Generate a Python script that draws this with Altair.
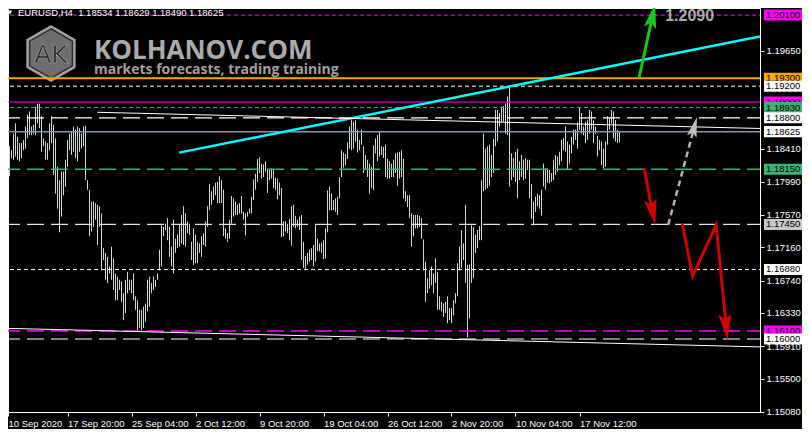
import altair as alt
import pandas as pd

# ---------------- data ----------------
HIGHS = [
    1.1865, 1.1916, 1.1858, 1.1844, 1.1839, 1.1860, 1.1873, 1.1856, 1.1848, 1.1848,
    1.1852, 1.1869, 1.1884, 1.1888, 1.1869, 1.1871, 1.1894, 1.1898, 1.1898, 1.1882,
    1.1854, 1.1850, 1.1848, 1.1873, 1.1882, 1.1871, 1.1854, 1.1818, 1.1801, 1.1812,
    1.1812, 1.1827, 1.1852, 1.1860, 1.1863, 1.1869, 1.1865, 1.1869, 1.1867, 1.1860,
    1.1869, 1.1870, 1.1801, 1.1789, 1.1774, 1.1774, 1.1772, 1.1770, 1.1768, 1.1759,
    1.1715, 1.1709, 1.1704, 1.1692, 1.1717, 1.1702, 1.1683, 1.1679, 1.1675, 1.1673,
    1.1658, 1.1675, 1.1685, 1.1675, 1.1675, 1.1683, 1.1654, 1.1649, 1.1637, 1.1637,
    1.1641, 1.1645, 1.1675, 1.1679, 1.1671, 1.1679, 1.1675, 1.1683, 1.1713,
    1.1744, 1.1742, 1.1746, 1.1753, 1.1742, 1.1717, 1.1751, 1.1727, 1.1732, 1.1746,
    1.1757, 1.1768, 1.1759, 1.1749, 1.1746, 1.1723, 1.1740, 1.1732, 1.1723, 1.1721,
    1.1730, 1.1734, 1.1749, 1.1768, 1.1796, 1.1787, 1.1793, 1.1798, 1.1799, 1.1806,
    1.1801, 1.1789, 1.1740, 1.1734, 1.1751, 1.1781, 1.1778, 1.1774, 1.1770, 1.1772,
    1.1781, 1.1761, 1.1759, 1.1761, 1.1765, 1.1780, 1.1802, 1.1809, 1.1828, 1.1830,
    1.1822, 1.1821, 1.1825, 1.1814, 1.1814, 1.1816, 1.1814, 1.1804, 1.1803, 1.1798,
    1.1791, 1.1749, 1.1749, 1.1746, 1.1752, 1.1768, 1.1770, 1.1756, 1.1751, 1.1755,
    1.1757, 1.1723, 1.1705, 1.1709, 1.1713, 1.1715, 1.1719,
    1.1744, 1.1727, 1.1721, 1.1722, 1.1725, 1.1740, 1.1788, 1.1793, 1.1784, 1.1776,
    1.1778, 1.1780, 1.1805, 1.1839, 1.1836, 1.1834, 1.1849, 1.1869, 1.1877, 1.1875,
    1.1877, 1.1865, 1.1852, 1.1865, 1.1844, 1.1833, 1.1827, 1.1822, 1.1818, 1.1845,
    1.1854, 1.1858, 1.1863, 1.1844, 1.1843, 1.1846, 1.1828, 1.1825, 1.1822, 1.1827,
    1.1835, 1.1836, 1.1837, 1.1839, 1.1828, 1.1787, 1.1782, 1.1782, 1.1759, 1.1757,
    1.1757, 1.1757, 1.1756, 1.1753, 1.1726, 1.1698, 1.1677, 1.1687, 1.1692, 1.1683,
    1.1702, 1.1685, 1.1654, 1.1647, 1.1645, 1.1647, 1.1654, 1.1639, 1.1639, 1.1649,
    1.1658, 1.1696, 1.1717, 1.1738, 1.1721, 1.1770, 1.1694,
    1.1694, 1.1744, 1.1742, 1.1732, 1.1738, 1.1743, 1.1801, 1.1860, 1.1841, 1.1844,
    1.1846, 1.1833, 1.1853, 1.1890, 1.1890, 1.1886, 1.1894, 1.1895, 1.1898, 1.1907,
    1.1920, 1.1835, 1.1829, 1.1837, 1.1841, 1.1825, 1.1833, 1.1827, 1.1829, 1.1827,
    1.1827, 1.1796, 1.1774, 1.1780, 1.1784, 1.1782, 1.1789, 1.1822, 1.1816, 1.1816,
    1.1814, 1.1810, 1.1827, 1.1833, 1.1831, 1.1837, 1.1852, 1.1854, 1.1869, 1.1850,
    1.1846, 1.1856, 1.1865, 1.1865, 1.1874, 1.1893, 1.1886, 1.1869, 1.1875, 1.1877,
    1.1890, 1.1888, 1.1877, 1.1869, 1.1857, 1.1852, 1.1850, 1.1841, 1.1850, 1.1882,
    1.1880, 1.1890, 1.1888, 1.1877, 1.1865, 1.18629,
]

LOWS = [
    1.1827, 1.1856, 1.1808, 1.1806, 1.1829, 1.1827, 1.1831, 1.1827, 1.1825, 1.1829,
    1.1839, 1.1841, 1.1854, 1.1858, 1.1858, 1.1860, 1.1858, 1.1873, 1.1867, 1.1837,
    1.1844, 1.1827, 1.1827, 1.1839, 1.1848, 1.1808, 1.1784, 1.1765, 1.1735, 1.1755,
    1.1782, 1.1793, 1.1818, 1.1839, 1.1833, 1.1837, 1.1829, 1.1825, 1.1837, 1.1841,
    1.1844, 1.1801, 1.1789, 1.1730, 1.1736, 1.1742, 1.1751, 1.1719, 1.1742, 1.1687,
    1.1700, 1.1675, 1.1671, 1.1683, 1.1675, 1.1662, 1.1649, 1.1649, 1.1662, 1.1647,
    1.1624, 1.1633, 1.1658, 1.1662, 1.1658, 1.1649, 1.1637, 1.1611, 1.1614, 1.1611,
    1.1614, 1.1622, 1.1635, 1.1641, 1.1658, 1.1662, 1.1666, 1.1675, 1.1687,
    1.1692, 1.1730, 1.1738, 1.1725, 1.1704, 1.1692, 1.1683, 1.1709, 1.1715, 1.1717,
    1.1721, 1.1719, 1.1717, 1.1734, 1.1732, 1.1700, 1.1694, 1.1696, 1.1696, 1.1709,
    1.1704, 1.1719, 1.1717, 1.1742, 1.1763, 1.1770, 1.1776, 1.1782, 1.1772, 1.1772,
    1.1772, 1.1730, 1.1727, 1.1723, 1.1727, 1.1746, 1.1755, 1.1757, 1.1757, 1.1759,
    1.1759, 1.1751, 1.1731, 1.1755, 1.1759, 1.1759, 1.1776, 1.1789, 1.1799, 1.1810,
    1.1803, 1.1805, 1.1812, 1.1785, 1.1801, 1.1803, 1.1791, 1.1789, 1.1777, 1.1782,
    1.1729, 1.1730, 1.1736, 1.1734, 1.1725, 1.1718, 1.1742, 1.1740, 1.1742, 1.1738,
    1.1700, 1.1690, 1.1687, 1.1694, 1.1698, 1.1700, 1.1692,
    1.1698, 1.1711, 1.1711, 1.1709, 1.1701, 1.1702, 1.1735, 1.1763, 1.1763, 1.1763,
    1.1761, 1.1757, 1.1778, 1.1805, 1.1817, 1.1820, 1.1828, 1.1841, 1.1839, 1.1841,
    1.1850, 1.1836, 1.1839, 1.1846, 1.1810, 1.1814, 1.1805, 1.1784, 1.1791, 1.1789,
    1.1835, 1.1825, 1.1831, 1.1833, 1.1829, 1.1805, 1.1803, 1.1803, 1.1805, 1.1805,
    1.1810, 1.1794, 1.1803, 1.1805, 1.1778, 1.1774, 1.1767, 1.1753, 1.1717, 1.1730,
    1.1740, 1.1740, 1.1742, 1.1727, 1.1687, 1.1647, 1.1658, 1.1664, 1.1668, 1.1658,
    1.1671, 1.1637, 1.1637, 1.1635, 1.1628, 1.1633, 1.1620, 1.1624, 1.1620, 1.1630,
    1.1645, 1.1654, 1.1687, 1.1690, 1.1700, 1.1671, 1.1602,
    1.1626, 1.1671, 1.1677, 1.1709, 1.1715, 1.1725, 1.1725, 1.1787, 1.1789, 1.1791,
    1.1794, 1.1805, 1.1810, 1.1844, 1.1850, 1.1869, 1.1874, 1.1875, 1.1860, 1.1858,
    1.1793, 1.1801, 1.1805, 1.1799, 1.1778, 1.1801, 1.1805, 1.1801, 1.1803, 1.1814,
    1.1778, 1.1752, 1.1744, 1.1761, 1.1768, 1.1765, 1.1756, 1.1793, 1.1789, 1.1798,
    1.1797, 1.1799, 1.1801, 1.1808, 1.1812, 1.1820, 1.1825, 1.1839, 1.1837, 1.1814,
    1.1822, 1.1835, 1.1846, 1.1852, 1.1841, 1.1865, 1.1860, 1.1858, 1.1848, 1.1852,
    1.1860, 1.1865, 1.1848, 1.1860, 1.1831, 1.1839, 1.1820, 1.1816, 1.1818, 1.1846,
    1.1865, 1.1873, 1.1854, 1.1850, 1.1848, 1.18490,
]

TIME_TICKS = [2.25, 32, 64, 96, 128, 160, 192, 224, 256, 288]
TIME_LABELS = ["10 Sep 2020", "17 Sep 20:00", "25 Sep 04:00", "2 Oct 12:00",
               "9 Oct 20:00", "19 Oct 04:00", "26 Oct 12:00", "2 Nov 20:00",
               "10 Nov 04:00", "17 Nov 12:00"]

PRICE_TICKS = [1.1508, 1.1550, 1.1591, 1.1633, 1.1674, 1.1716, 1.1757,
               1.1799, 1.1841, 1.1965]

LEVEL_PRICES = [1.2010, 1.1930, 1.1920, 1.1900, 1.1893, 1.1880, 1.18625,
                1.1815, 1.1745, 1.1688, 1.1610, 1.1600]
LEVEL_COLORS = ["#FF00FF", "#FFA500", "#FFFFFF", "#FF00FF", "#3CB371", "#FFFFFF",
                "#8796A5", "#3CB371", "#E0E0E0", "#FFFFFF", "#FF00FF", "#FFFFFF"]
LEVEL_STYLES = ["dot", "solid", "dot", "solid", "dot", "dash",
                "solid", "dash", "dash", "dot", "dash", "dash"]
LEVEL_WIDTHS = [1, 2, 1, 1.2, 1, 1.2, 1.5, 1.5, 1.2, 1, 1.5, 1.2]

BOX_PRICES = LEVEL_PRICES
BOX_LABELS = ["1.20100", "1.19300", "1.19200", "1.19000", "1.18930", "1.18800",
              "1.18625", "1.18150", "1.17450", "1.16880", "1.16100", "1.16000"]
BOX_COLORS = ["#FF00FF", "#FFA500", "#FFFFFF", "#FF00FF", "#3CB371", "#FFFFFF",
              "#FFFFFF", "#3CB371", "#C8C8C8", "#FFFFFF", "#FF00FF", "#FFFFFF"]

TREND_X1 = [87.85, 46.85, -0.15]
TREND_X2 = [378.25, 378.25, 378.25]
TREND_P1 = [1.18359, 1.18870, 1.16136]
TREND_P2 = [1.19831, 1.18665, 1.15900]
TREND_COLORS = ["#00FFFF", "#FFFFFF", "#FFFFFF"]
TREND_WIDTHS = [2.5, 1, 1]

GREEN_X = [317.85, 323.75]
GREEN_P = [1.19313, 1.2000]
GRAY_X = [332.35, 344.9]
GRAY_P = [1.17444, 1.18636]
RED1_X = [320.35, 322.85, 324.1]
RED1_P = [1.18165, 1.17823, 1.17668]
RED2_X = [339.35, 344.6, 356.35, 361.1]
RED2_P = [1.17456, 1.16798, 1.17444, 1.16215]

HEAD_X = [325.85, 346.7, 325.85, 362.0]
HEAD_P = [1.2025, 1.18807, 1.17444, 1.15988]
HEAD_ANGLE = [12, 15, 169, 174]
HEAD_COLOR = ["#1BC41B", "#BEBEBE", "#D00000", "#D00000"]
HEAD_SIZE = [625, 400, 676, 676]

TARGET_X = [330.85]
TARGET_P = [1.2009]
TARGET_TEXT = ["1.2090"]

HEADER = "EURUSD,H4\u00a0\u00a01.18534 1.18629 1.18490 1.18625"

# ---------------- chart ----------------
W, H = 752, 404
xs = alt.Scale(domain=[2.25, 378.25], nice=False, zero=False)
ys = alt.Scale(domain=[1.15076, 1.2019], nice=False, zero=False)

FONT = "Liberation Sans"
FS = 9.5
labels_js = "[" + ",".join("'" + s + "'" for s in TIME_LABELS) + "]"

x_axis = alt.Axis(values=TIME_TICKS, labelExpr=labels_js + "[round(datum.value/32)]",
                  orient="bottom", domain=False, grid=False, tickSize=4,
                  tickColor="#FFFFFF", labelColor="#FFFFFF", labelFont=FONT,
                  labelFontSize=FS, labelAlign="left", labelBaseline="top",
                  labelPadding=2, labelFlush=False, labelOverlap=False,
                  title=None, zindex=0)
y_axis = alt.Axis(values=PRICE_TICKS, format=".5f", orient="right", domain=False,
                  grid=False, tickSize=4, tickColor="#FFFFFF", labelColor="#FFFFFF",
                  labelFont=FONT, labelFontSize=FS, labelAlign="left",
                  labelBaseline="middle", labelPadding=2, labelFlush=False,
                  labelOverlap=False, title=None, zindex=0)


def X(field):
    return alt.X(field, scale=xs, axis=x_axis)


def Y(field):
    return alt.Y(field, scale=ys, axis=y_axis)


one = pd.DataFrame({"k": [0]})

# watermark logo
HEX = "M0,-1L0.866,-0.5L0.866,0.5L0,1L-0.866,0.5L-0.866,-0.5Z"
logo_outer = alt.Chart(one).mark_point(shape=HEX, filled=True, opacity=1, size=3249,
                                       color="#A2A2A2", strokeWidth=0).encode(
    x=alt.value(43), y=alt.value(45.5))
logo_inner = alt.Chart(one).mark_point(shape=HEX, filled=True, opacity=1, size=2450,
                                       fill="#6E6E6E", stroke="#2E2E2E",
                                       strokeWidth=1.5).encode(
    x=alt.value(43), y=alt.value(45.5))
logo_ak = alt.Chart(one).mark_text(text="AK", font="DejaVu Sans", fontSize=25,
                                   color="#1E1E1E", stroke="#A8A8A8",
                                   strokeWidth=0.6, align="center",
                                   baseline="middle").encode(
    x=alt.value(43), y=alt.value(47))
logo_title = alt.Chart(one).mark_text(text="KOLHANOV.COM", font="Open Sans",
                                      fontSize=26, fontWeight="bold", color="#ABABAB",
                                      align="left", baseline="alphabetic").encode(
    x=alt.value(86), y=alt.value(50.5))
logo_sub = alt.Chart(one).mark_text(text="markets forecasts, trading training",
                                    font="Open Sans", fontSize=14, fontWeight="bold",
                                    color="#A0A0A0", align="left",
                                    baseline="alphabetic").encode(
    x=alt.value(86), y=alt.value(66))

# horizontal levels
levels_df = pd.DataFrame({"price": LEVEL_PRICES, "color": LEVEL_COLORS,
                          "style": LEVEL_STYLES, "width": LEVEL_WIDTHS})
levels = alt.Chart(levels_df).mark_rule(strokeDashOffset=5).encode(
    y=Y("price:Q"),
    x=alt.value(0), x2=alt.value(W),
    color=alt.Color("color:N", scale=None),
    strokeDash=alt.StrokeDash("style:N", scale=alt.Scale(
        domain=["solid", "dot", "dash"], range=[[1, 0], [4, 3], [17, 7]]), legend=None),
    strokeWidth=alt.StrokeWidth("width:Q", scale=None),
)

# OHLC bars (high-low)
bars_df = pd.DataFrame({"i": list(range(len(HIGHS))), "high": HIGHS, "low": LOWS})
bars = alt.Chart(bars_df).mark_rule(color="#D6D6D6", strokeWidth=1, clip=True).encode(
    x=X("i:Q"),
    y=Y("low:Q"),
    y2="high:Q",
)

# trend lines
trend_df = pd.DataFrame({"x1": TREND_X1, "x2": TREND_X2, "p1": TREND_P1, "p2": TREND_P2,
                         "color": TREND_COLORS, "width": TREND_WIDTHS})
trends = alt.Chart(trend_df).mark_rule(clip=True).encode(
    x=X("x1:Q"), x2="x2:Q",
    y=Y("p1:Q"), y2="p2:Q",
    color=alt.Color("color:N", scale=None),
    strokeWidth=alt.StrokeWidth("width:Q", scale=None),
)


def shaft(xv, pv, color, width, dash=None):
    df = pd.DataFrame({"i": xv, "p": pv, "k": list(range(len(xv)))})
    kw = dict(color=color, strokeWidth=width)
    if dash is not None:
        kw["strokeDash"] = dash
    return alt.Chart(df).mark_line(**kw).encode(
        x=X("i:Q"),
        y=Y("p:Q"),
        order="k:Q",
    )


green_shaft = shaft(GREEN_X, GREEN_P, "#1BC41B", 3)
gray_shaft = shaft(GRAY_X, GRAY_P, "#B4B4B4", 2.5, [6, 4])
red1_shaft = shaft(RED1_X, RED1_P, "#D00000", 3)
red2_shaft = shaft(RED2_X, RED2_P, "#D00000", 3)

ARROW = "M0,0L0.5,2L0,1.6L-0.5,2Z"
heads_df = pd.DataFrame({"i": HEAD_X, "p": HEAD_P, "angle": HEAD_ANGLE,
                         "color": HEAD_COLOR, "size": HEAD_SIZE})
heads = alt.Chart(heads_df).mark_point(shape=ARROW, filled=True, opacity=1,
                                       strokeWidth=0).encode(
    x=X("i:Q"),
    y=Y("p:Q"),
    angle=alt.Angle("angle:Q", scale=None),
    color=alt.Color("color:N", scale=None),
    size=alt.Size("size:Q", scale=None),
)

target_df = pd.DataFrame({"i": TARGET_X, "p": TARGET_P, "t": TARGET_TEXT})
target = alt.Chart(target_df).mark_text(align="left", baseline="middle", font=FONT,
                                        fontSize=16, fontWeight="bold",
                                        color="#ADADAD").encode(
    x=X("i:Q"),
    y=Y("p:Q"),
    text="t:N",
)

# header
header_tri = alt.Chart(one).mark_point(shape="triangle-down", filled=True, opacity=1,
                                       size=22, color="#FFFFFF").encode(
    x=alt.value(2), y=alt.value(4.5))
header = alt.Chart(one).mark_text(text=HEADER, font=FONT, fontSize=FS,
                                  color="#FFFFFF", align="left",
                                  baseline="middle").encode(
    x=alt.value(10), y=alt.value(5))

# price label boxes on the right axis
BOX = "M-1,-0.29L1,-0.29L1,0.29L-1,0.29Z"
box_layers = []
for bp, bl, bc in zip(BOX_PRICES, BOX_LABELS, BOX_COLORS):
    bdf = pd.DataFrame({"price": [bp], "label": [bl]})
    box_layers.append(
        alt.Chart(bdf).mark_point(shape=BOX, filled=True, opacity=1, size=1444,
                                  color=bc, strokeWidth=0).encode(
            x=alt.value(W + 23), y=Y("price:Q")))
    box_layers.append(
        alt.Chart(bdf).mark_text(align="left", baseline="middle", font=FONT,
                                 fontSize=FS, color="#000000").encode(
            x=alt.value(W + 6), y=Y("price:Q"), text="label:N"))

chart = alt.layer(
    bars, logo_outer, logo_inner, logo_ak, logo_title, logo_sub, levels,
    trends, green_shaft, gray_shaft, red1_shaft, red2_shaft, heads, target,
    header_tri, header, *box_layers,
).properties(
    width=W, height=H,
    autosize=alt.AutoSizeParams(type="none"),
    padding={"left": 0, "top": 0, "right": 42, "bottom": 17},
    background="#000000",
).configure_view(
    stroke="#FFFFFF", strokeWidth=1, fill="#000000",
)

chart.save("out.html", embed_options={"renderer": "svg", "actions": False})
